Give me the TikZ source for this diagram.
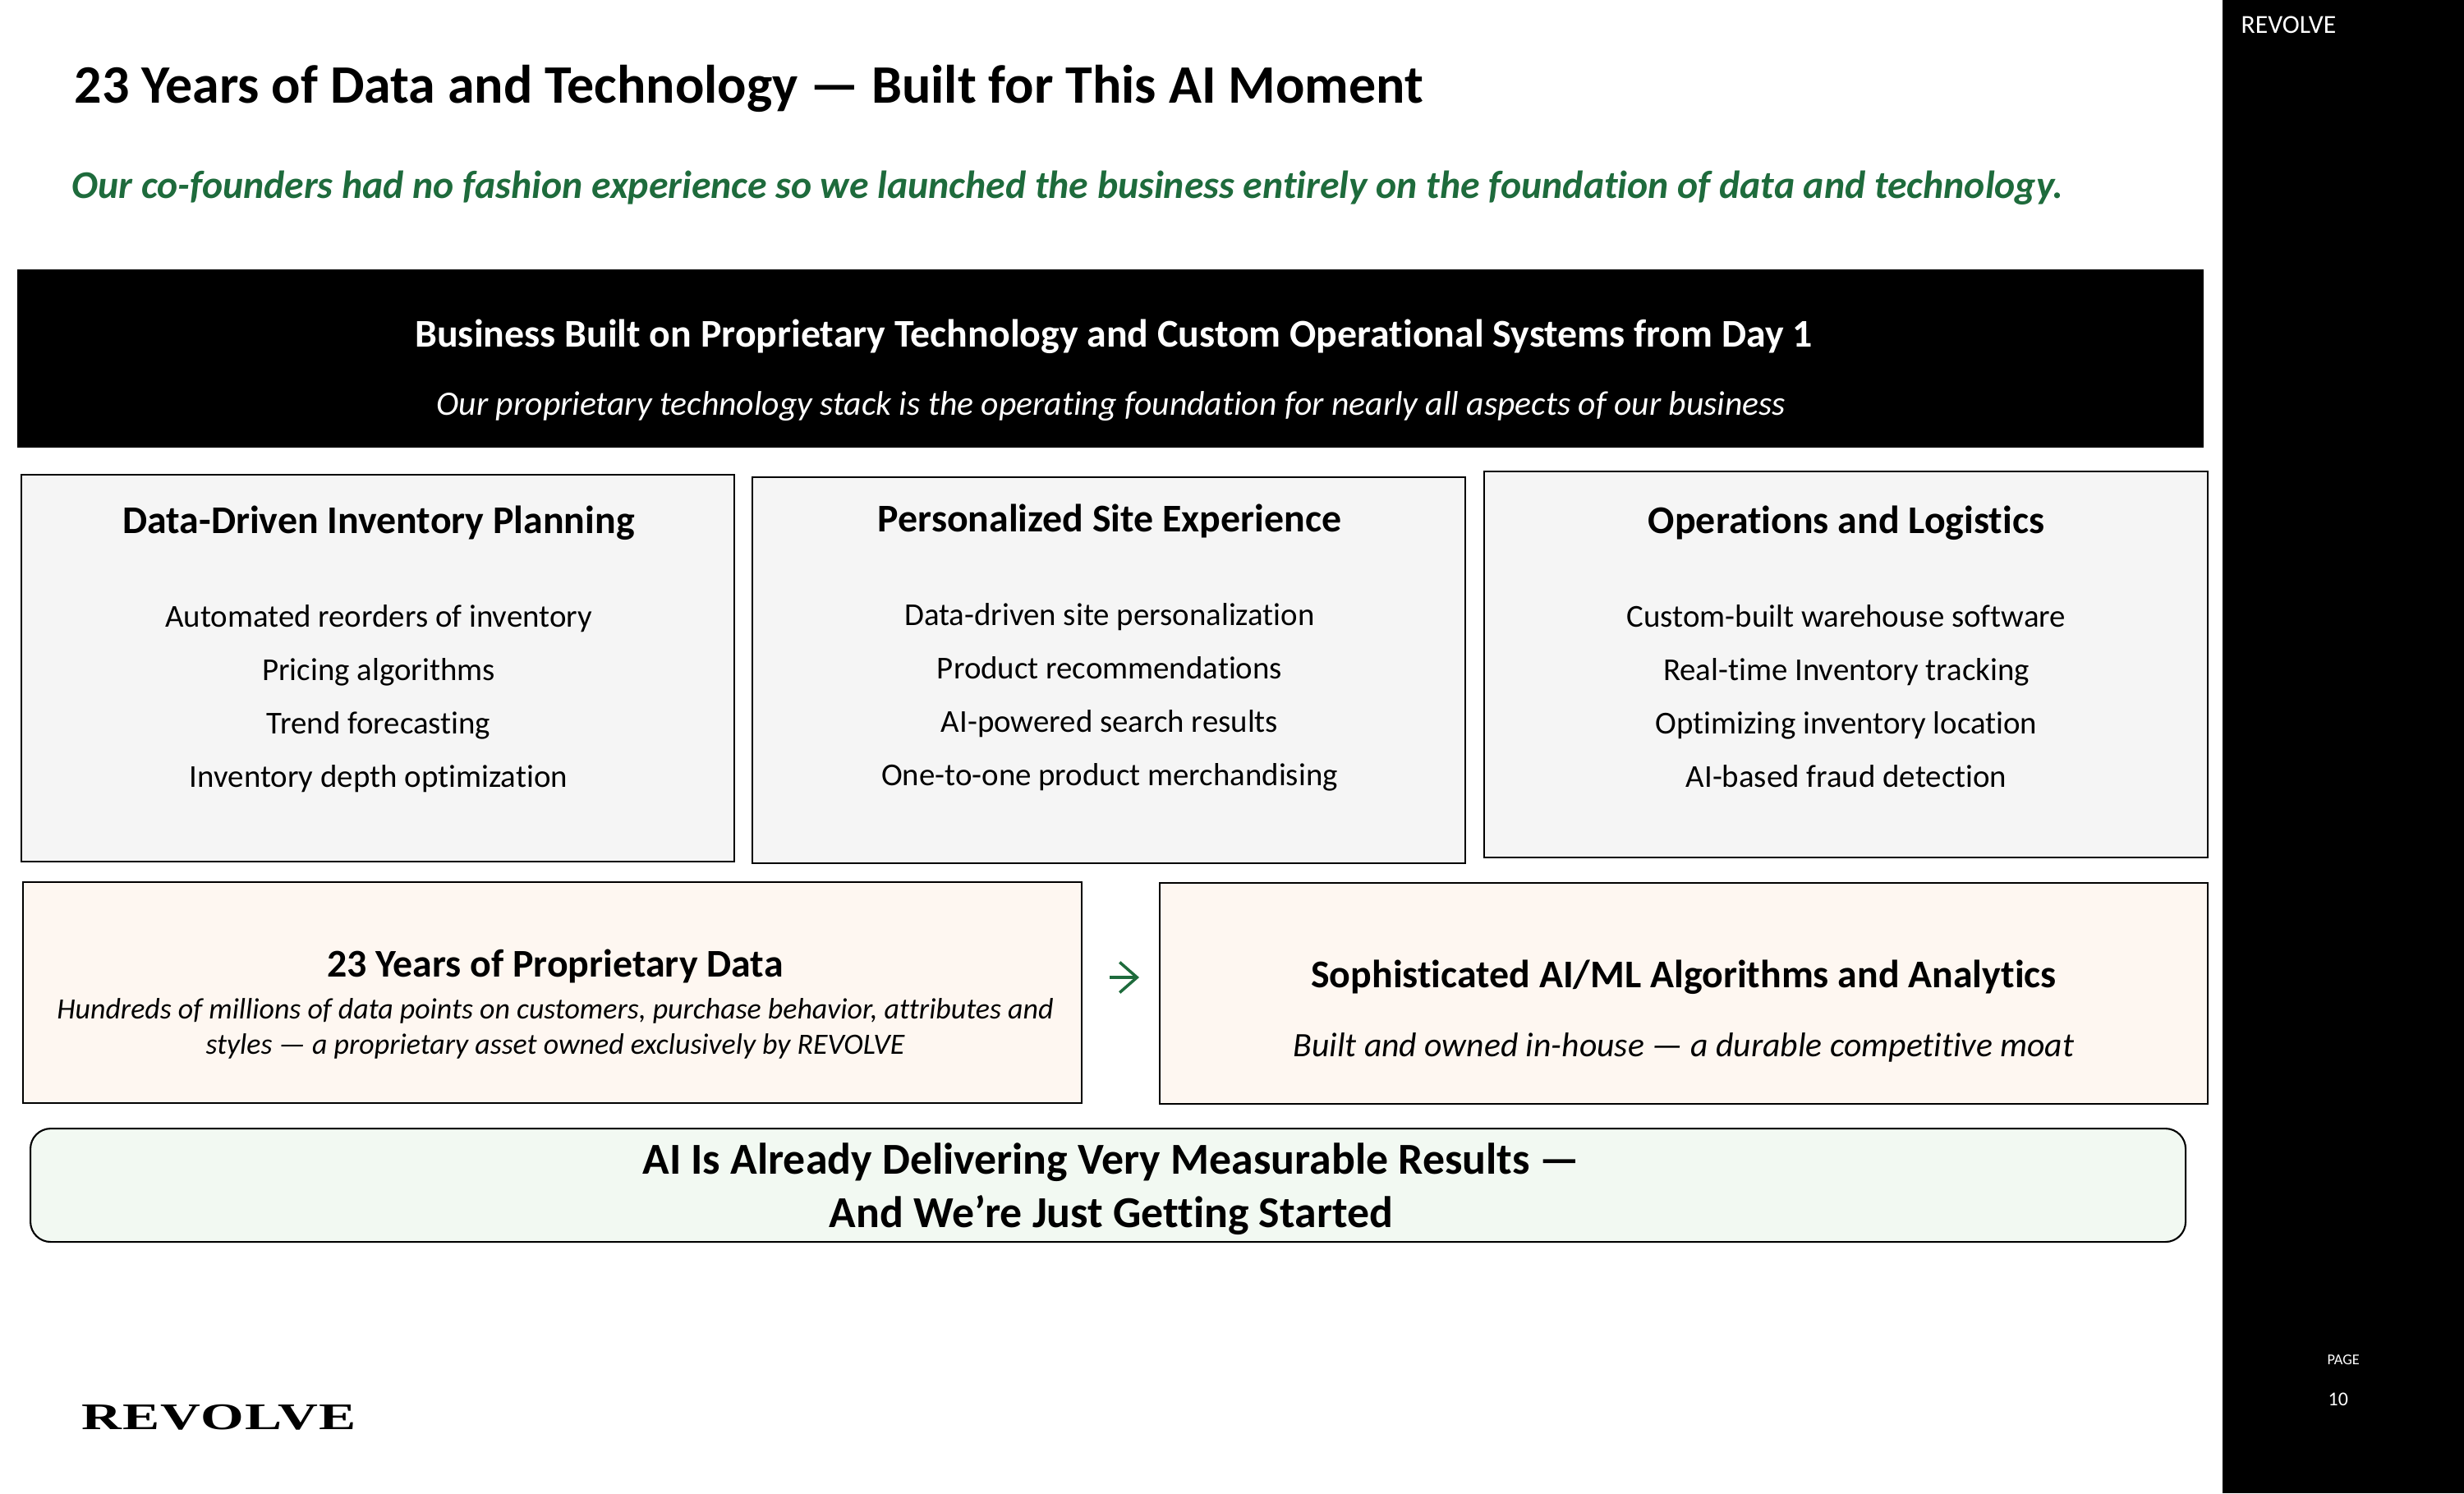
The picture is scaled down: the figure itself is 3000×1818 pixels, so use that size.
\documentclass[tikz,border=0pt]{standalone}
\usepackage{fontspec}
\setmainfont{Carlito}[Ligatures=NoCommon]
\newfontfamily\logofont[FakeStretch=1.48,LetterSpace=2.5]{Liberation Serif}
\usetikzlibrary{arrows.meta, positioning}
\definecolor{revgreen}{HTML}{1E6B3C}
\definecolor{panelgray}{HTML}{F5F5F5}
\definecolor{panelcream}{HTML}{FEF7F1}
\definecolor{panelmint}{HTML}{F2F9F2}
\newcommand{\sizetitle}{\fontsize{18.75}{22}\selectfont\bfseries}
\newcommand{\sizelead}{\fontsize{13.57}{17}\selectfont\bfseries\itshape}
\newcommand{\sizehead}{\fontsize{13.6}{16}\selectfont\bfseries}
\newcommand{\sizeitem}{\fontsize{11.05}{13}\selectfont}
\newcommand{\sizenote}{\fontsize{11.85}{14}\selectfont\itshape}
\newcommand{\sizesmall}{\fontsize{10.2}{12}\selectfont\itshape}
\newcommand{\sizeclose}{\fontsize{15.3}{18}\selectfont\bfseries}
\begin{document}
\begin{tikzpicture}[x=0.01cm, y=-0.01cm, >={Straight Barb[length=6pt,width=10.5pt]}, every node/.style={inner sep=0pt}]
    % Define styles for panels and their texts
    \tikzstyle{panel} = [draw=black, line width=0.6pt, rectangle, anchor=north west]
    \tikzstyle{head} = [anchor=base, font=\sizehead]
    \tikzstyle{entry} = [font=\sizeitem, text height=8pt, text depth=2.5pt, node distance=0.65cm]
    \tikzstyle{note} = [anchor=base, font=\sizenote]
    \useasboundingbox (0,0) rectangle (3000,1818);

    % Side bar
    \fill[black] (2706,0) rectangle (3000,1818);
    \node [anchor=base west, text=white, font=\fontsize{9}{10}\selectfont] (sidename) at (2728,41) {REVOLVE};
    \node [anchor=base west, text=white, font=\fontsize{5.2}{6}\selectfont] (pagelabel) at (2833,1661) {PAGE};
    \node [anchor=base west, text=white, font=\fontsize{6.8}{8}\selectfont] (pagenumber) at (2834,1711) {10};

    % Title lines
    \node [anchor=base west, font=\sizetitle] (title) at (90,125) {23 Years of Data and Technology — Built for This AI Moment};
    \node [anchor=base west, font=\sizelead, text=revgreen] (lead) at (87,241) {Our co-founders had no fashion experience so we launched the business entirely on the foundation of data and technology.};

    % Banner
    \node [panel, fill=black, draw=black, minimum width=2660*0.01cm, minimum height=215*0.01cm] (banner) at (21,328) {};
    \node [head, text=white] (bannerhead) at (1356,422) {Business Built on Proprietary Technology and Custom Operational Systems from Day 1};
    \node [note, text=white] (bannernote) at (1353,505) {Our proprietary technology stack is the operating foundation for nearly all aspects of our business};

    % Three columns
    \node [panel, fill=panelgray, minimum width=868*0.01cm, minimum height=471*0.01cm] (planning) at (25,577) {};
    \node [panel, fill=panelgray, minimum width=868*0.01cm, minimum height=470*0.01cm] (site) at (915,580) {};
    \node [panel, fill=panelgray, minimum width=881*0.01cm, minimum height=470*0.01cm] (logistics) at (1806,573) {};

    \node [head] (planninghead) at (461,649) {Data-Driven Inventory Planning};
    \node [entry] (planninga) at (461,754) {Automated reorders of inventory};
    \node [entry, below of=planninga] (planningb) {Pricing algorithms};
    \node [entry, below of=planningb] (planningc) {Trend forecasting};
    \node [entry, below of=planningc] (planningd) {Inventory depth optimization};

    \node [head] (sitehead) at (1351,647) {Personalized Site Experience};
    \node [entry] (sitea) at (1351,752) {Data-driven site personalization};
    \node [entry, below of=sitea] (siteb) {Product recommendations};
    \node [entry, below of=siteb] (sitec) {AI-powered search results};
    \node [entry, below of=sitec] (sited) {One-to-one product merchandising};

    \node [head] (logisticshead) at (2248,649) {Operations and Logistics};
    \node [entry] (logisticsa) at (2248,754) {Custom-built warehouse software};
    \node [entry, below of=logisticsa] (logisticsb) {Real-time Inventory tracking};
    \node [entry, below of=logisticsb] (logisticsc) {Optimizing inventory location};
    \node [entry, below of=logisticsc] (logisticsd) {AI-based fraud detection};

    % Data and algorithms row
    \node [panel, fill=panelcream, minimum width=1289*0.01cm, minimum height=269*0.01cm] (data) at (27,1073) {};
    \node [panel, fill=panelcream, minimum width=1276*0.01cm, minimum height=269*0.01cm] (algos) at (1411,1074) {};
    \coordinate (arrowstart) at (1351,1190);
    \coordinate (arrowend) at (1387,1190);
    \draw[->, revgreen, line width=1pt] (arrowstart) -- (arrowend);

    \node [head] (datahead) at (676,1189) {23 Years of Proprietary Data};
    \node [anchor=base, font=\sizesmall] (datanotea) at (676,1240) {Hundreds of millions of data points on customers, purchase behavior, attributes and};
    \node [anchor=base, font=\sizesmall] (datanoteb) at (676,1283) {styles — a proprietary asset owned exclusively by REVOLVE};
    \node [head] (algoshead) at (2050,1202) {Sophisticated AI/ML Algorithms and Analytics};
    \node [note] (algosnote) at (2050,1286) {Built and owned in-house — a durable competitive moat};

    % Closing statement
    \node [panel, fill=panelmint, rounded corners=7pt, minimum width=2624*0.01cm, minimum height=138*0.01cm] (closing) at (36,1373) {};
    \node [head, font=\sizeclose] (closinga) at (1353,1429) {AI Is Already Delivering Very Measurable Results —};
    \node [head, font=\sizeclose] (closingb) at (1353,1494) {And We’re Just Getting Started};

    % Logo
    \node [anchor=base west, font=\logofont\bfseries\fontsize{13}{15}\selectfont] (logo) at (99,1740) {REVOLVE};
\end{tikzpicture}
\end{document}
